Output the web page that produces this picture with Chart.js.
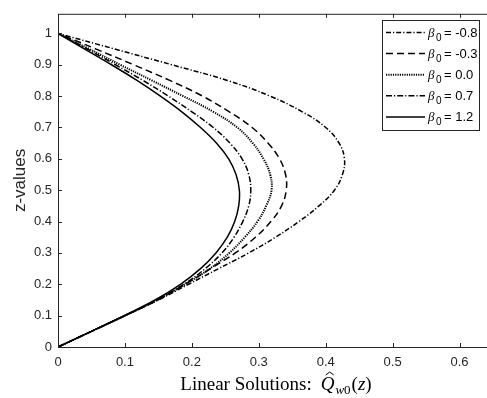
<!DOCTYPE html>
<html>
<head>
<meta charset="utf-8">
<script src="https://cdn.jsdelivr.net/npm/chart.js@4/dist/chart.umd.min.js"></script>
<style>
  html, body { margin: 0; padding: 0; background: #fff; overflow: hidden; }
  #wrap { width: 487px; height: 398px; position: relative; }
</style>
</head>
<body>
<div id="wrap"><canvas id="chart"></canvas></div>
<script>
// z grid shared by every curve
const zValues = [0, 0.05, 0.1, 0.15, 0.2, 0.25, 0.3, 0.35, 0.4, 0.45, 0.5,
  0.55, 0.6, 0.65, 0.7, 0.75, 0.8, 0.85, 0.9, 0.95, 1]

// Linear solutions Q_w0(z), one per beta_0
const qBetaNeg08 = [0, 0.05, 0.1, 0.15, 0.195, 0.24, 0.285, 0.325, 0.36, 0.39, 0.413,
  0.425, 0.428, 0.42, 0.4, 0.365, 0.317, 0.253, 0.17, 0.085, 0]
const qBetaNeg03 = [0, 0.05, 0.1, 0.149, 0.19, 0.228, 0.265, 0.295, 0.318, 0.334, 0.341,
  0.34, 0.331, 0.314, 0.29, 0.256, 0.216, 0.167, 0.113, 0.057, 0]
const qBetaZero = [0, 0.05, 0.1, 0.148, 0.19, 0.227, 0.256, 0.279, 0.298, 0.311, 0.319,
  0.317, 0.307, 0.291, 0.268, 0.232, 0.187, 0.14, 0.093, 0.047, 0]
const qBetaPos07 = [0, 0.05, 0.1, 0.147, 0.188, 0.22, 0.245, 0.263, 0.276, 0.285, 0.288,
  0.285, 0.275, 0.257, 0.232, 0.2, 0.165, 0.127, 0.086, 0.044, 0]
const qBetaPos12 = [0, 0.05, 0.099, 0.145, 0.183, 0.213, 0.236, 0.253, 0.264, 0.27, 0.271,
  0.266, 0.255, 0.237, 0.213, 0.185, 0.153, 0.118, 0.08, 0.04, 0]

const betaLabels = ['-0.8', '-0.3', '0.0', '0.7', '1.2']
const xTicks = [0, 0.1, 0.2, 0.3, 0.4, 0.5, 0.6]
const yTicks = [0, 0.1, 0.2, 0.3, 0.4, 0.5, 0.6, 0.7, 0.8, 0.9, 1]

const axisColor = '#262626'
const dashes = [[5, 2, 1.2, 2], [7, 4], [1.2, 1.1], [6, 2, 1.2, 2], []]
const widths = [1.5, 1.5, 2, 1.5, 1.5]
const series = [qBetaNeg08, qBetaNeg03, qBetaZero, qBetaPos07, qBetaPos12]

const toPoints = function (qs) {
  return zValues.map((z, i) => ({ x: qs[i], y: z }))
}

const datasets = series.map((qs, i) => ({
  label: betaLabels[i],
  data: toPoints(qs),
  showLine: true,
  fill: false,
  borderColor: '#000',
  borderWidth: widths[i],
  borderDash: dashes[i],
  pointRadius: 0,
  tension: 0.4
}))

// Draws the box, inward ticks, axis titles and the legend (MATLAB look)
const matlabFrame = {
  id: 'matlabFrame',
  afterDraw (chart) {
    const ctx = chart.ctx
    const area = chart.chartArea
    const xs = chart.scales.x
    const ys = chart.scales.y

    ctx.save()
    ctx.strokeStyle = axisColor
    ctx.lineWidth = 1
    ctx.setLineDash([])

    // Box (right side falls outside the picture)
    ctx.beginPath()
    ctx.moveTo(area.right, area.top + 0.5)
    ctx.lineTo(area.left + 0.5, area.top + 0.5)
    ctx.lineTo(area.left + 0.5, area.bottom + 0.5)
    ctx.lineTo(area.right, area.bottom + 0.5)
    ctx.stroke()

    // Inward ticks
    ctx.beginPath()
    xTicks.forEach(v => {
      const px = Math.round(xs.getPixelForValue(v)) + 0.5
      ctx.moveTo(px, area.bottom)
      ctx.lineTo(px, area.bottom - 4)
      ctx.moveTo(px, area.top)
      ctx.lineTo(px, area.top + 4)
    })
    yTicks.forEach(v => {
      const py = Math.round(ys.getPixelForValue(v)) + 0.5
      ctx.moveTo(area.left, py)
      ctx.lineTo(area.left + 4, py)
    })
    ctx.stroke()

    // Y title
    ctx.fillStyle = axisColor
    ctx.font = '17px "Liberation Sans", Arial, sans-serif'
    ctx.textAlign = 'center'
    ctx.textBaseline = 'middle'
    ctx.save()
    ctx.translate(20, (area.top + area.bottom) / 2)
    ctx.rotate(-Math.PI / 2)
    ctx.fillText('z-values', 0, 0)
    ctx.restore()

    // X title: Linear Solutions: Q̂_w0(z)
    drawXTitle(ctx, 276, 390)

    drawLegend(ctx)
    ctx.restore()
  }
}

const drawXTitle = function (ctx, centerX, baseline) {
  const serif = '"Liberation Serif", "Times New Roman", serif'
  const parts = [
    { text: 'Linear Solutions:', font: '19px ' + serif, dy: 0, gap: 9 },
    { text: 'Q', font: 'italic 19px ' + serif, dy: 0, gap: 1, hat: true },
    { text: 'w', font: 'italic 13px ' + serif, dy: 4, gap: 0 },
    { text: '0', font: '13px ' + serif, dy: 4, gap: 1 },
    { text: '(', font: '19px ' + serif, dy: 0, gap: 0 },
    { text: 'z', font: 'italic 19px ' + serif, dy: 0, gap: 0 },
    { text: ')', font: '19px ' + serif, dy: 0, gap: 0 }
  ]
  let total = 0
  parts.forEach(p => {
    ctx.font = p.font
    p.w = ctx.measureText(p.text).width
    total += p.w + p.gap
  })
  let x = centerX - total / 2
  ctx.fillStyle = '#000'
  ctx.strokeStyle = '#000'
  ctx.textAlign = 'left'
  ctx.textBaseline = 'alphabetic'
  parts.forEach(p => {
    ctx.font = p.font
    ctx.fillText(p.text, x, baseline + p.dy)
    if (p.hat) {
      // hat accent over the Q
      ctx.lineWidth = 1
      ctx.beginPath()
      ctx.moveTo(x + 5, baseline - 15)
      ctx.lineTo(x + 9, baseline - 18)
      ctx.lineTo(x + 13, baseline - 15)
      ctx.stroke()
    }
    x += p.w + p.gap
  })
}

const drawLegend = function (ctx) {
  const box = { left: 382.5, top: 20.5, width: 97, height: 110 }
  ctx.fillStyle = '#fff'
  ctx.fillRect(box.left, box.top, box.width, box.height)
  ctx.strokeStyle = axisColor
  ctx.lineWidth = 1
  ctx.setLineDash([])
  ctx.strokeRect(box.left, box.top, box.width, box.height)

  betaLabels.forEach((label, i) => {
    const y = 32.5 + i * 21.1
    // Line sample
    ctx.strokeStyle = '#000'
    ctx.lineWidth = widths[i]
    ctx.setLineDash(dashes[i])
    ctx.beginPath()
    ctx.moveTo(386, y)
    ctx.lineTo(425, y)
    ctx.stroke()
    ctx.setLineDash([])

    // beta_0 = value
    ctx.fillStyle = '#000'
    ctx.textAlign = 'left'
    ctx.textBaseline = 'alphabetic'
    ctx.font = 'italic 13px "Liberation Serif", serif'
    ctx.fillText('β', 428, y + 4)
    ctx.font = '10px "Liberation Sans", Arial, sans-serif'
    ctx.fillText('0', 436, y + 8)
    ctx.font = '13px "Liberation Sans", Arial, sans-serif'
    ctx.fillText('= ' + label, 444, y + 4.5)
  })
}

const chart = new Chart(document.getElementById('chart').getContext('2d'), {
  type: 'scatter',
  data: { datasets },
  options: {
    responsive: true,
    maintainAspectRatio: false,
    animation: false,
    layout: { padding: { left: 0, right: 0, top: 7, bottom: 0 } },
    plugins: {
      legend: { display: false },
      tooltip: { enabled: false }
    },
    scales: {
      x: {
        type: 'linear',
        min: 0,
        max: 0.641,
        grid: { display: false, drawTicks: false },
        border: { display: false },
        afterBuildTicks: scale => { scale.ticks = xTicks.map(v => ({ value: v })) },
        afterFit: scale => { scale.height = 51 },
        ticks: {
          padding: 8,
          color: axisColor,
          font: { family: '"Liberation Sans", Arial, sans-serif', size: 13 },
          maxRotation: 0,
          callback: v => String(Math.round(v * 10) / 10)
        }
      },
      y: {
        type: 'linear',
        min: 0,
        max: 1.0625,
        grid: { display: false, drawTicks: false },
        border: { display: false },
        afterBuildTicks: scale => { scale.ticks = yTicks.map(v => ({ value: v })) },
        afterFit: scale => { scale.width = 58 },
        ticks: {
          padding: 6,
          color: axisColor,
          font: { family: '"Liberation Sans", Arial, sans-serif', size: 13 },
          callback: v => String(Math.round(v * 10) / 10)
        }
      }
    }
  },
  plugins: [matlabFrame]
})
</script>
</body>
</html>
